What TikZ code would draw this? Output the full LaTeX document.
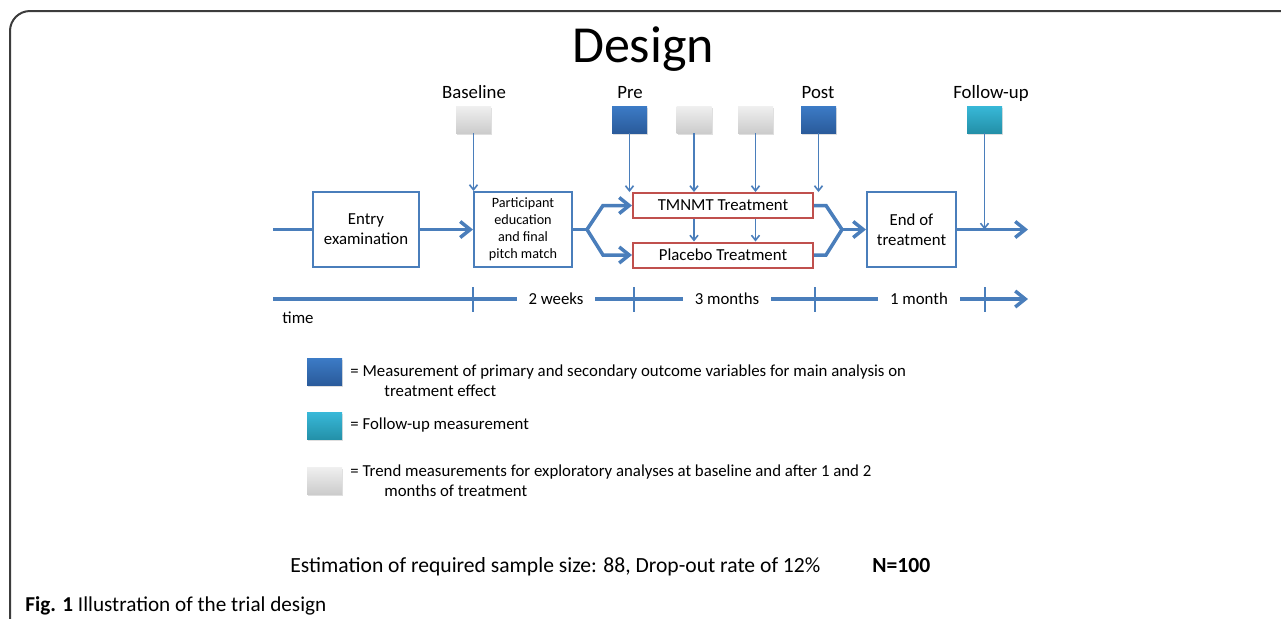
\documentclass[tikz,border=0pt]{standalone}
\usepackage{fontspec}
\setmainfont{Carlito}
\usetikzlibrary{arrows.meta,shadows}
\definecolor{lineblue}{HTML}{4A7EBB}
\definecolor{boxred}{HTML}{C0504D}
\definecolor{frame}{HTML}{3C3C3C}
\definecolor{bluetop}{HTML}{3C7BC6}
\definecolor{bluebot}{HTML}{2A5B9B}
\definecolor{cyantop}{HTML}{38B8D8}
\definecolor{cyanbot}{HTML}{2390A8}

\begin{document}
\begin{tikzpicture}[x=0.5pt,y=-0.5pt,font=\fontsize{8.4}{10}\selectfont]
\tikzstyle{box}=[draw=lineblue,line width=1pt,fill=white,align=center,inner sep=1pt,minimum height=37.5pt]
\tikzstyle{tbox}=[draw=boxred,line width=1pt,fill=white,minimum width=90pt,minimum height=12.5pt,inner sep=0pt]
\tikzstyle{meas}=[minimum width=17.5pt,minimum height=13.5pt,inner sep=0pt,
  drop shadow={opacity=0.25,shadow xshift=0.6pt,shadow yshift=-0.8pt}]
\tikzstyle{mblue}=[meas,top color=bluetop,bottom color=bluebot]
\tikzstyle{mcyan}=[meas,top color=cyantop,bottom color=cyanbot]
\tikzstyle{mgray}=[meas,top color=gray!12,bottom color=gray!40]
\tikzstyle{lab}=[anchor=base,font=\fontsize{9.4}{11}\selectfont]
\tikzstyle{flow}=[lineblue,line width=1.75pt,-{Straight Barb[length=5pt,width=8pt]}]
\tikzstyle{feed}=[lineblue,line width=0.8pt,-{Straight Barb[length=2.5pt,width=4pt]}]

    \useasboundingbox (0,0) rectangle (1281,618);
    \draw[frame,line width=1pt,rounded corners=10] (10,700) -- (10,11) -- (1400,11);

    \node[anchor=base,font=\fontsize{26}{30}\selectfont] (title) at (643,62) {Design};

    % measurements
    \node[mgray] (m1) at (473.5,119.5) {};
    \node[mblue] (m2) at (629.5,119.5) {};
    \node[mgray] (m3) at (694,119.5) {};
    \node[mgray] (m4) at (755.5,119.5) {};
    \node[mblue] (m5) at (818.5,119.5) {};
    \node[mcyan] (m6) at (984.5,119.5) {};
    \node[lab] (l1) at (474,98) {Baseline};
    \node[lab] (l2) at (630,98) {Pre};
    \node[lab] (l5) at (818,98) {Post};
    \node[lab] (l6) at (991,98) {Follow-up};

    % flow
    \coordinate (start) at (273,229.5);
    \coordinate (split) at (587,229.5);
    \coordinate (merge) at (842,229.5);
    \coordinate (out) at (1028,229.5);
    \node[box,minimum width=53pt] (entry) at (366,229.5) {Entry\\examination};
    \node[box,minimum width=49pt,font=\fontsize{7.1}{8.5}\selectfont] (edu) at (523,229.5) {Participant\\education\\and final\\pitch match};
    \node[tbox] (tmnmt) at (723,205.5) {TMNMT Treatment};
    \node[tbox] (placebo) at (723,255) {Placebo Treatment};
    \node[box,minimum width=44.5pt] (end) at (911.5,229.5) {End of\\treatment};

    \draw[flow,-] (start) -- (entry);
    \draw[flow] (entry) -- (edu);
    \draw[flow,-] (edu) -- (split);
    \draw[flow] (split) -- ++(16,-24) -- (tmnmt);
    \draw[flow] (split) -- ++(16,25.5) -- (placebo);
    \draw[flow,-] (tmnmt.east) -- ++(12,0) -- (merge);
    \draw[flow,-] (placebo.east) -- ++(12,0) -- (merge);
    \draw[flow] (merge) -- (end);
    \draw[flow] (end) -- (out);

    \draw[feed] (m1) -- (m1 |- edu.north);
    \draw[feed] (m2) -- (m2 |- tmnmt.north);
    \draw[feed] (m3) -- (m3 |- tmnmt.north);
    \draw[feed] (m4) -- (m4 |- tmnmt.north);
    \draw[feed] (m5) -- (m5 |- tmnmt.north);
    \draw[feed] (m6) -- (m6 |- out);
    \draw[feed] (m3 |- tmnmt.south) -- (m3 |- placebo.north);
    \draw[feed] (m4 |- tmnmt.south) -- (m4 |- placebo.north);

    % time line
    \coordinate (t0) at (273,299);
    \coordinate (t1) at (1028,299);
    \draw[flow] (t0) -- (t1);
    \foreach \x in {473,634,815,985}
      \draw[lineblue,line width=1pt] (\x,287) -- (\x,312);
    \node[fill=white,inner xsep=6pt] (w2) at (556,299) {2 weeks};
    \node[fill=white,inner xsep=6pt] (m3t) at (727,299) {3 months};
    \node[fill=white,inner xsep=6pt] (m1t) at (919,299) {1 month};
    \node[anchor=west,inner sep=0pt] (time) at (282,318) {time};

    % legend
    \node[mblue] (k1) at (324.5,371.5) {};
    \node[mcyan] (k2) at (324.5,426) {};
    \node[mgray] (k3) at (324.5,480.5) {};
    \node[anchor=west,inner sep=0pt,align=left] (t1) at (350,381)
      {= Measurement of primary and secondary outcome variables for main analysis on\\\hspace{17pt}treatment effect};
    \node[anchor=west,inner sep=0pt] (t2) at (350,425) {= Follow-up measurement};
    \node[anchor=west,inner sep=0pt,align=left] (t3) at (350,481)
      {= Trend measurements for exploratory analyses at baseline and after 1 and 2\\\hspace{17pt}months of treatment};

    \node[anchor=base west,inner sep=0pt,font=\fontsize{10.8}{13}\selectfont] (est) at (290,572) {Estimation of required sample size: 88, Drop-out rate of 12\%};
    \node[anchor=base west,inner sep=0pt,font=\fontsize{10.8}{13}\bfseries] (n) at (872,572) {N=100};
    \node[anchor=base west,inner sep=0pt,font=\fontsize{10.6}{12}\selectfont] (cap) at (25,611) {\textbf{Fig. 1} Illustration of the trial design};
\end{tikzpicture}
\end{document}
